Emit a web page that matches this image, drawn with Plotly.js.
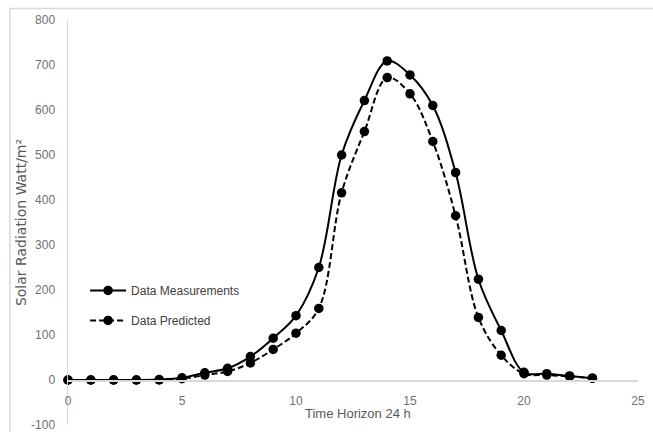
<!DOCTYPE html>
<html>
<head>
<meta charset="utf-8">
<script src="https://cdn.plot.ly/plotly-3.0.1.min.js"></script>
<style>html,body{margin:0;padding:0;background:#fff;}#chart{width:653px;height:432px;}</style>
</head>
<body>
<div id="chart"></div>
<script>
const hours = [0,1,2,3,4,5,6,7,8,9,10,11,12,13,14,15,16,17,18,19,20,21,22,23];
const measured = [0,0,0,0,1,5,16,26,52,93,143,250,500,621,709,678,610,461,224,110,17,14,9,4];
const predicted = [0,0,0,0,0,3,11,19,38,68,104,159,416,552,672,636,530,365,139,55,14,11,8,4];
const xTicks = [0,5,10,15,20,25];
const yTicks = [-100,0,100,200,300,400,500,600,700,800];
const seriesNames = ['Data Measurements','Data Predicted'];
const xTitle = 'Time Horizon 24 h';
const yTitle = 'Solar Radiation Watt/m\u00b2';

const narrow = "'Liberation Sans Narrow', 'Liberation Sans', Arial, sans-serif";

const traces = [
  {x: hours, y: measured, name: seriesNames[0], type: 'scatter', mode: 'lines+markers',
   legendgroup: 'a', cliponaxis: false,
   line: {color: '#000', width: 2, shape: 'spline', smoothing: 1},
   marker: {color: '#000', size: 9.5, symbol: 'circle'}},
  {x: hours, y: predicted, name: seriesNames[1], type: 'scatter', mode: 'lines+markers',
   legendgroup: 'b', cliponaxis: false,
   line: {color: '#000', width: 2, dash: '6px,3px', shape: 'spline', smoothing: 1},
   marker: {color: '#000', size: 9.5, symbol: 'circle'}}
];

const layout = {
  width: 653, height: 432,
  margin: {l: 68, r: 15, t: 20, b: 7},
  paper_bgcolor: '#fff', plot_bgcolor: '#fff',
  showlegend: true,
  legend: {x: 0.03, y: 0.368, xanchor: 'left', yanchor: 'top', itemwidth: 36,
           bgcolor: 'rgba(0,0,0,0)', traceorder: 'grouped', tracegroupgap: 11,
           font: {family: narrow, size: 12, color: '#404040'}},
  xaxis: {range: [0, 25], tickvals: xTicks, ticktext: xTicks.map(String),
          anchor: 'free', position: 100/900,
          showline: true, linecolor: '#d9d9d9', linewidth: 1.5,
          showgrid: false, zeroline: false,
          ticks: 'outside', ticklen: 9, tickcolor: 'rgba(0,0,0,0)',
          tickfont: {family: narrow, size: 12, color: '#6f6f6f'}},
  yaxis: {range: [-100, 800], tickvals: yTicks, ticktext: yTicks.map(String),
          showline: true, linecolor: '#d9d9d9', linewidth: 1.5,
          showgrid: false, zeroline: false, ticklabeloverflow: 'allow',
          ticks: 'outside', ticklen: 9, tickcolor: 'rgba(0,0,0,0)',
          tickfont: {family: narrow, size: 12, color: '#6f6f6f'},
          title: {text: yTitle, standoff: 1,
                  font: {family: "'DejaVu Sans', Verdana, sans-serif", size: 14, color: '#595959'}}},
  annotations: [
    {text: xTitle, xref: 'paper', yref: 'paper', x: 0.508, y: 0.0296,
     xanchor: 'center', yanchor: 'middle', showarrow: false,
     font: {family: narrow, size: 13, color: '#595959'}}
  ],
  shapes: [
    {type: 'line', xref: 'paper', yref: 'paper', x0: -0.1018, x1: 1.2, y0: 1.0284, y1: 1.0284,
     line: {color: '#d9d9d9', width: 1.5}},
    {type: 'line', xref: 'paper', yref: 'paper', x0: -0.1018, x1: -0.1018, y0: 1.0284, y1: -0.1,
     line: {color: '#d9d9d9', width: 1.5}}
  ]
};

Plotly.newPlot('chart', traces, layout, {displayModeBar: false, staticPlot: true});
</script>
</body>
</html>
